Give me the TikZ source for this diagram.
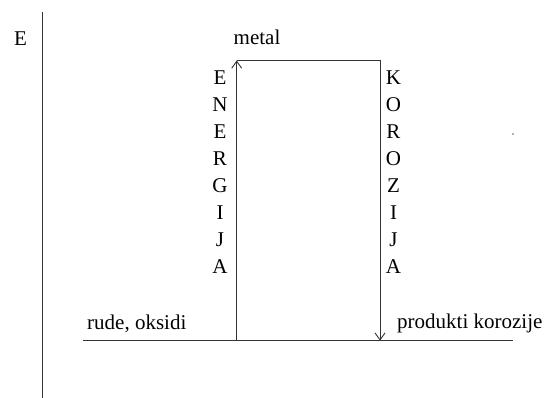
\documentclass[tikz,border=0pt]{standalone}
\usepackage{fontspec}
\setmainfont{Liberation Serif}
\usetikzlibrary{arrows.meta}
\begin{document}
\begin{tikzpicture}[x=1pt,y=-1pt,
  line/.style={line width=1pt, draw=black!80},
  barb/.style={-{Straight Barb[length=7pt,width=10pt,line width=0.9pt]}},
  lbl/.style={inner sep=0pt, font=\fontsize{21}{25}\selectfont},
  letter/.style={inner sep=0pt, font=\fontsize{21}{25}\selectfont}]
\useasboundingbox (0,0) rectangle (558,398);
% axis
\coordinate (axtop) at (42,12);
\coordinate (axbot) at (42,398);
\draw[line] (axtop) -- (axbot);
\node[lbl] (E) at (20.5,39) {E};
% baseline
\coordinate (hl) at (83,340.7);
\coordinate (hr) at (513,340.7);
\draw[line] (hl) -- (hr);
% box corners
\coordinate (bl) at (236.7,340.7);
\coordinate (tl) at (236.7,60.5);
\coordinate (tr) at (380,60.5);
\coordinate (br) at (380,340.7);
\draw[line,barb] (bl) -- (tl);
\draw[line] (tl) -- (tr);
\draw[line,barb] (tr) -- (br);
% labels
\node[lbl,anchor=base] (metal) at (257,45) {metal};
\node[lbl,anchor=base west] (rude) at (87,330) {rude, oksidi};
\node[lbl,anchor=base west] (prod) at (397,329) {produkti korozije};
\foreach \l [count=\i] in {E,N,E,R,G,I,J,A}
  \node[letter] (en\i) at (220,{78+(\i-1)*26.9}) {\l};
\foreach \l [count=\i] in {K,O,R,O,Z,I,J,A}
  \node[letter] (ko\i) at (393.5,{78+(\i-1)*26.9}) {\l};
% stray dot
\fill[black!60] (513,134) circle (0.8pt);
\end{tikzpicture}
\end{document}
